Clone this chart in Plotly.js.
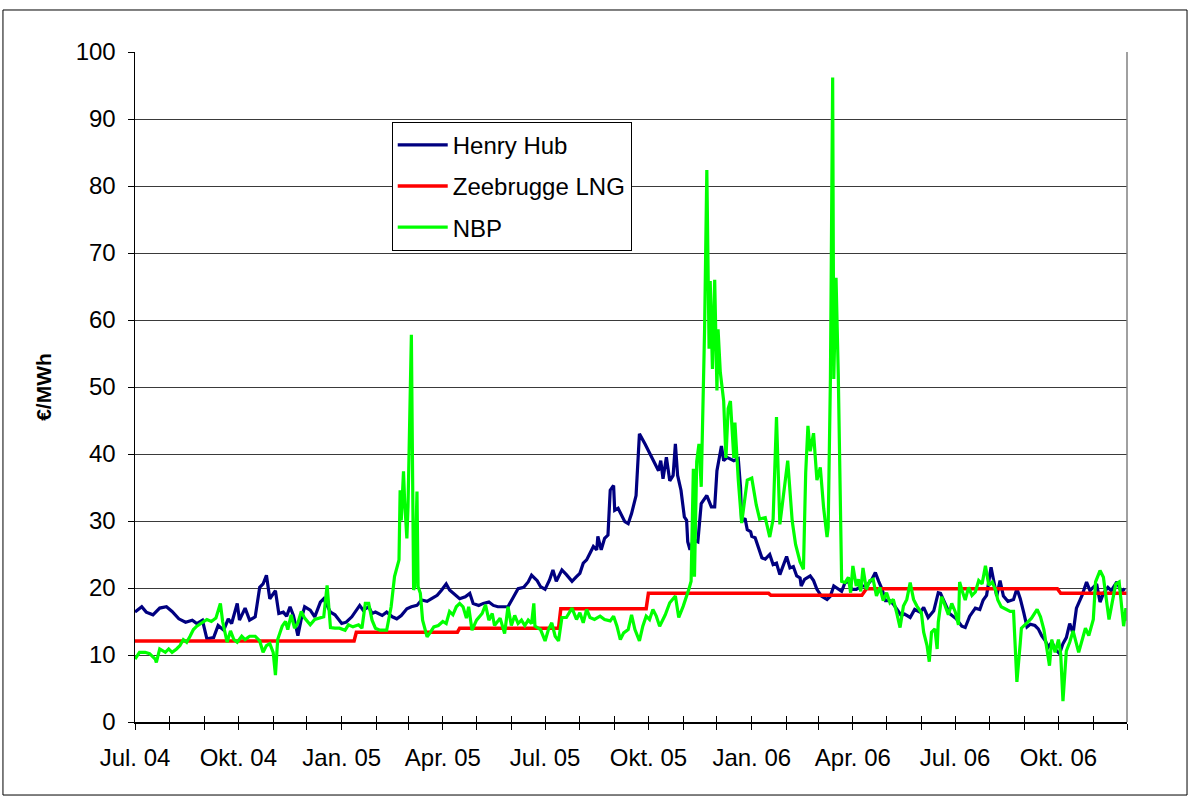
<!DOCTYPE html>
<html>
<head>
<meta charset="utf-8">
<script src="https://cdn.plot.ly/plotly-3.0.1.min.js"></script>
<style>
html,body{margin:0;padding:0;background:#fff;}
#chart{width:1190px;height:796px;}
</style>
</head>
<body>
<div id="chart"></div>
<script>
// Day offsets are days since 2004-07-01
const startDate = Date.UTC(2004, 6, 1);

const henryHubDays = [0,6,10,16,22,28,33,39,45,51,55,60,64,70,74,79,83,86,91,93,98,102,107,111,114,117,120,125,128,132,135,138,141,145,148,151,156,160,165,168,174,
178,184,188,193,196,200,203,208,211,214,220,224,229,233,237,242,246,251,255,260,264,269,273,277,280,285,289,294,298,301,306,310,315,319,323,328,332,337,341,346,350,353,358,
361,365,369,372,375,380,384,389,393,396,399,402,405,408,411,412,415,418,421,423,426,427,430,433,436,439,442,446,449,454,460,466,468,470,473,476,479,481,483,486,489,491,492,494,497,501,504,509,513,516,518,522,524,527,
533,537,539,540,543,545,548,549,552,555,558,561,565,568,571,574,577,580,583,586,589,592,593,596,601,604,607,611,616,619,622,626,629,632,635,638,642,647,651,656,659,662,665,668,672,675,678,682,685,690,694,699,702,706,711,715,
717,721,725,731,736,739,743,748,752,755,758,762,764,767,770,773,777,782,785,788,791,794,797,801,804,807,810,813,816,820,823,826,829,832,835,838,843,847,850,853,856,859,862,866,869,874,878,881];
const henryHubValues = [16.4,17.2,16.4,16.0,17.0,17.2,16.5,15.4,14.9,15.2,14.7,15.2,12.4,12.6,14.4,13.7,15.4,14.7,17.7,15.2,17.0,15.2,15.7,20.1,20.6,21.9,18.4,19.6,16.2,16.4,15.8,17.2,15.9,12.9,15.4,17.2,16.7,15.7,17.9,18.4,16.4,
16.0,14.7,14.9,15.7,16.4,17.4,16.7,17.2,16.2,16.4,15.9,16.4,15.7,15.4,15.9,16.9,17.2,17.4,18.2,18.0,18.4,18.9,19.7,20.6,19.7,18.9,18.4,18.7,19.2,17.7,17.4,17.7,17.9,17.4,17.2,17.2,17.2,18.7,19.9,20.1,20.9,21.9,21.1,
20.2,19.8,21.2,22.7,21.0,22.7,22.0,21.0,21.7,22.2,23.7,24.2,25.2,26.2,25.7,27.7,25.7,27.4,27.9,34.6,35.3,31.6,31.9,30.9,29.9,29.6,31.1,33.8,43.0,41.5,39.5,37.5,39.0,36.3,39.5,36.0,36.8,41.5,36.8,34.6,30.6,30.1,26.9,25.7,27.2,26.9,32.6,33.8,32.1,32.1,37.5,41.2,39.0,39.5,
39.0,39.3,35.0,29.9,30.4,28.7,28.4,27.7,27.5,26.0,24.5,24.3,25.0,23.5,23.7,22.0,23.5,24.7,23.0,23.2,21.8,21.5,20.3,21.3,21.8,21.1,19.8,18.8,18.3,18.8,20.3,19.8,19.5,20.8,21.0,19.8,19.8,20.3,20.3,21.3,22.3,21.0,19.8,18.1,18.1,17.6,16.8,15.9,16.1,15.6,16.8,16.4,17.1,15.6,16.6,19.3,
19.2,17.7,16.2,15.4,14.3,14.1,15.8,17.0,16.8,18.2,18.9,23.1,21.2,18.8,21.1,18.8,18.0,18.3,19.9,18.4,16.4,14.2,14.6,14.4,13.9,12.9,12.2,11.2,11.9,10.7,10.2,11.7,12.6,14.7,13.2,17.0,18.9,20.9,19.6,20.1,20.6,17.9,19.2,20.1,19.6,20.9,19.4,19.9];

const zeebruggeDays = [0,195,197,287,289,377,379,455,457,564,566,647,651,821,824,883];
const zeebruggeValues = [12.1,12.1,13.4,13.4,14.0,14.0,16.9,16.9,19.2,19.2,18.9,18.9,19.9,19.9,19.2,19.2];

const nbpDays = [0,4,9,13,18,19,22,27,30,33,37,40,43,46,49,52,55,59,64,68,72,76,78,82,85,88,91,95,98,102,107,111,114,117,120,123,125,127,131,134,136,139,142,145,148,151,156,160,165,168,171,174,178,
182,187,190,194,199,202,205,208,211,214,218,224,228,231,235,236,237,239,240,242,243,246,247,248,249,251,252,254,256,260,263,266,270,274,277,280,283,286,289,292,295,297,300,304,309,312,315,318,320,325,329,332,335,338,341,344,347,350,353,355,
356,361,365,368,371,374,377,380,384,389,393,396,399,402,405,409,414,418,423,426,429,432,435,439,442,445,449,452,455,458,461,464,467,472,476,481,484,488,493,
495,497,498,500,502,504,507,509,511,512,514,516,518,519,521,524,526,528,530,533,534,537,540,545,549,553,556,561,565,568,571,574,
577,581,585,588,592,595,597,599,601,604,607,610,613,616,617,619,621,622,624,626,629,
632,635,637,639,642,644,646,648,651,654,657,660,663,666,669,672,675,678,681,684,687,690,693,696,700,702,705,707,709,712,714,
715,718,721,724,727,730,733,734,736,739,742,745,748,751,754,757,760,763,766,768,771,776,779,782,785,788,789,794,798,803,806,809,812,814,816,819,822,824,826,829,832,835,840,843,846,849,853,855,859,862,864,867,870,873,876,880,882,883];
const nbpValues = [9.4,10.4,10.4,10.2,9.4,8.9,10.9,10.4,10.9,10.4,10.9,11.4,12.3,11.9,12.8,13.8,14.3,14.8,15.3,15.0,15.5,17.7,15.0,11.9,13.6,12.3,11.9,12.8,12.3,12.8,12.8,12.1,10.4,11.4,11.7,10.4,7.0,12.3,14.3,15.0,13.8,16.0,14.0,14.8,16.5,15.5,14.5,15.3,15.5,15.7,20.4,14.1,14.0,
14.0,13.7,14.5,14.2,14.5,14.0,17.7,17.7,15.2,14.0,13.7,13.7,17.2,21.7,24.2,34.6,30.1,37.4,33.0,27.4,32.1,57.8,38.1,19.7,20.2,34.4,20.2,19.2,15.2,12.7,13.4,14.2,14.4,15.0,14.7,16.5,16.0,17.2,17.7,17.2,15.5,17.2,13.7,15.2,16.2,17.5,15.2,16.2,14.4,15.5,13.2,17.2,14.4,15.9,14.7,15.2,14.4,15.2,14.7,17.7,
14.3,13.8,12.1,13.8,14.8,12.8,12.1,15.6,15.6,17.0,15.3,16.3,14.8,16.8,15.6,15.3,15.8,15.3,15.1,15.8,14.3,12.3,13.3,13.8,16.0,13.8,12.1,14.3,15.8,15.3,16.8,15.8,14.3,16.0,17.8,18.8,15.6,17.3,19.8,
21.0,37.8,21.7,38.9,41.5,35.1,58.6,82.4,55.7,65.8,52.7,66.0,49.5,58.6,52.2,47.9,39.4,46.8,47.9,39.4,44.7,36.1,29.7,36.1,36.4,32.4,30.3,30.5,27.6,30.3,45.5,29.5,
33.9,39.0,30.0,26.5,23.9,22.8,37.2,44.2,40.4,43.1,36.1,38.0,31.9,27.6,29.0,51.2,96.2,51.2,66.3,51.8,21.0,
20.8,21.6,19.3,23.3,20.3,21.3,19.5,23.0,19.8,21.1,21.3,18.8,20.1,18.1,19.3,17.8,18.3,16.3,14.1,17.3,18.3,20.8,18.3,17.3,16.3,13.4,11.4,9.0,13.4,13.9,10.9,
14.9,18.7,17.4,16.0,17.7,16.5,14.5,20.9,19.7,18.2,20.1,18.9,19.4,21.1,20.6,23.3,20.4,20.9,19.7,18.2,17.2,16.7,16.5,16.5,6.0,11.8,14.0,14.8,15.5,16.8,15.7,13.8,10.4,8.4,12.3,10.4,12.3,10.1,3.1,10.6,11.9,13.6,10.4,12.1,14.0,12.9,15.3,20.9,22.6,21.6,18.9,15.3,18.0,20.6,20.9,14.3,17.0,15.1];

const tickMonths = ['2004-07-01','2004-08-01','2004-09-01','2004-10-01','2004-11-01','2004-12-01',
'2005-01-01','2005-02-01','2005-03-01','2005-04-01','2005-05-01','2005-06-01',
'2005-07-01','2005-08-01','2005-09-01','2005-10-01','2005-11-01','2005-12-01',
'2006-01-01','2006-02-01','2006-03-01','2006-04-01','2006-05-01','2006-06-01',
'2006-07-01','2006-08-01','2006-09-01','2006-10-01','2006-11-01','2006-12-01'];
const tickLabels = ['Jul. 04','','','Okt. 04','','','Jan. 05','','','Apr. 05','','',
'Jul. 05','','','Okt. 05','','','Jan. 06','','','Apr. 06','','',
'Jul. 06','','','Okt. 06','',''];

const seriesNames = ['Henry Hub','Zeebrugge LNG','NBP'];

function toDates(days){ return days.map(d => new Date(startDate + d*86400000).toISOString().slice(0,10)); }

const traces = [
  {x: toDates(henryHubDays), y: henryHubValues, name: seriesNames[0], legendgroup:'a', type:'scatter', mode:'lines',
   line:{color:'#000080', width:3.2}},
  {x: toDates(zeebruggeDays), y: zeebruggeValues, name: seriesNames[1], legendgroup:'b', type:'scatter', mode:'lines',
   line:{color:'#FF0000', width:3.5, shape:'linear'}},
  {x: toDates(nbpDays), y: nbpValues, name: seriesNames[2], legendgroup:'c', type:'scatter', mode:'lines',
   line:{color:'#00FF00', width:3.2}},
  {x: [tickMonths[0], tickMonths[tickMonths.length-1]], y:[null,null], xaxis:'x2', showlegend:false, hoverinfo:'skip', mode:'lines'}
];

const xRange = ['2004-07-01','2006-12-01'];
const font = 'Arial, "Liberation Sans", sans-serif';

const layout = {
  width:1190, height:796,
  margin:{l:135, r:63, t:52, b:74},
  paper_bgcolor:'#fff', plot_bgcolor:'#fff',
  font:{family:font, color:'#000'},
  showlegend:true,
  legend:{x:0.2588, y:0.896, xanchor:'left', yanchor:'top', bgcolor:'#fff', bordercolor:'#000', borderwidth:1,
          font:{size:24, family:font, color:'#000'}, itemwidth:50, tracegroupgap:7, traceorder:'grouped'},
  xaxis:{type:'date', range:xRange, tickmode:'array', tickvals:tickMonths, ticktext:tickLabels,
         ticks:'outside', ticklen:6, tickcolor:'#000', tickwidth:1, showgrid:false, zeroline:false,
         showline:true, linecolor:'#000', linewidth:1.5, tickfont:{size:24, family:font, color:'#000'},
         ticklabelstandoff:8, fixedrange:true},
  xaxis2:{type:'date', range:xRange, overlaying:'x', anchor:'y', side:'bottom', tickmode:'array', tickvals:tickMonths,
          ticktext:tickMonths.map(()=>''), ticks:'inside', ticklen:6, tickcolor:'#000', tickwidth:1,
          showgrid:false, zeroline:false, showline:false, showticklabels:false},
  yaxis:{range:[0,100], tickmode:'linear', tick0:0, dtick:10, ticks:'outside', ticklen:6, tickcolor:'#000',
         showgrid:true, gridcolor:'#3a3a3a', gridwidth:1, zeroline:false, showline:true, linecolor:'#000', linewidth:1.5,
         tickfont:{size:24, family:font, color:'#000'}, ticklabelstandoff:7,
         title:{text:'€/MWh', font:{size:21, family:font, color:'#000', weight:'bold'}, standoff:18}},
  shapes:[
    {type:'line', xref:'paper', yref:'paper', x0:1, x1:1, y0:0, y1:1, line:{color:'#808080', width:1.5}},
    {type:'rect', xref:'paper', yref:'paper', x0:-0.1331, x1:1.0605, y0:-0.109, y1:1.0627, line:{color:'#000', width:1}}
  ]
};

Plotly.newPlot('chart', traces, layout, {staticPlot:true, displayModeBar:false});
</script>
</body>
</html>
